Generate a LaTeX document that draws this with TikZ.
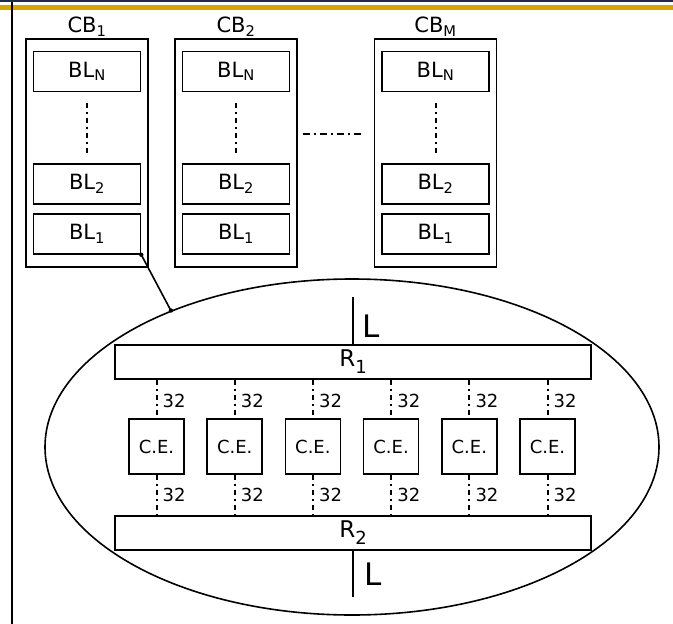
\documentclass[tikz,border=0pt]{standalone}
\usepackage{fontspec}
\setmainfont{DejaVu Sans}
\usetikzlibrary{shapes.geometric,calc}
\definecolor{navy}{RGB}{26,44,74}
\definecolor{gold}{RGB}{214,163,0}
\newcommand{\rsub}[1]{\raisebox{-0.3em}{\fontsize{18}{20}\selectfont #1}}
\begin{document}
\begin{tikzpicture}[x=1pt,y=-1pt,
  lw/.style={line width=1.6pt},
  cbbox/.style={draw,lw,inner sep=0pt,minimum width=122pt,minimum height=228pt},
  blbox/.style={draw,lw,inner sep=0pt,minimum width=107pt,minimum height=40pt,font=\fontsize{21}{24}\selectfont},
  cblabel/.style={anchor=south,inner sep=1.5pt,font=\fontsize{21}{24}\selectfont},
  cebox/.style={draw,lw,inner sep=0pt,minimum width=55pt,minimum height=55pt,font=\fontsize{18}{21}\selectfont},
  rbar/.style={draw,lw,inner sep=0pt,minimum width=476pt,minimum height=34pt,font=\fontsize{23}{26}\selectfont},
  ddline/.style={line width=2pt,dash pattern=on 5pt off 4pt on 2pt off 4pt},
  hdline/.style={line width=2pt,dash pattern=on 7pt off 4pt on 2pt off 4pt},
  num/.style={anchor=base west,inner sep=0pt,font=\fontsize{18}{21}\selectfont},
  biglabel/.style={anchor=base west,inner sep=0pt,font=\fontsize{31}{35}\selectfont},
]
\useasboundingbox (0,0) rectangle (673,624);
% slide decoration
\fill[navy] (0,0) rectangle (673,2.3);
\fill[gold] (0,4.5) rectangle (673,9.5);
\draw[line width=2pt] (12,2) -- (12,624);

% column blocks
\foreach \n/\x/\s in {1/87/1,2/236/2,m/435.5/M}{
  \node[cbbox] (cb\n) at (\x,153) {};
  \node[cblabel] (cbl\n) at (cb\n.north) {CB\textsubscript{\s}};
  \node[blbox] (bln\n) at (\x,71.5) {BL\textsubscript{N}};
  \node[blbox] (blb\n) at (\x,184) {BL\textsubscript{2}};
  \node[blbox] (bla\n) at (\x,234) {BL\textsubscript{1}};
  \draw[ddline,shorten <=11pt,shorten >=9pt] (bln\n.south) -- (blb\n.north);
}
\draw[hdline,shorten <=5pt,shorten >=12pt] ([yshift=19pt]cb2.east) -- ([yshift=19pt]cbm.west);

% ellipse detail
\node[draw,lw,ellipse,inner sep=0pt,minimum width=614pt,minimum height=336pt] (ell) at (352,447) {};
\draw[lw] (bla1.south east) -- (ell.143);
\fill (bla1.south east) circle (2.2pt);
\fill (ell.143) circle (2.2pt);

\node[rbar] (r1) at (353,362) {R\rsub{1}};
\node[rbar] (r2) at (353,533) {R\rsub{2}};

\coordinate (ltop) at (353,297);
\coordinate (lbot) at (353,597);
\draw[lw] (ltop) -- (r1.north);
\draw[lw] (r2.south) -- (lbot);
\node[biglabel] (lt) at (362,337) {L};
\node[biglabel] (lb) at (364,585) {L};

\foreach \i in {0,...,5}{
  \pgfmathsetmacro{\cx}{156.5+78.2*\i}
  \node[cebox] (ce\i) at (\cx,446.5) {C.E.};
  \draw[ddline] (r1.south -| ce\i) -- (ce\i.north);
  \draw[ddline] (ce\i.south) -- (r2.north -| ce\i);
  \node[num] (nt\i) at (\cx+6,407) {32};
  \node[num] (nb\i) at (\cx+6,501) {32};
}
\end{tikzpicture}
\end{document}
